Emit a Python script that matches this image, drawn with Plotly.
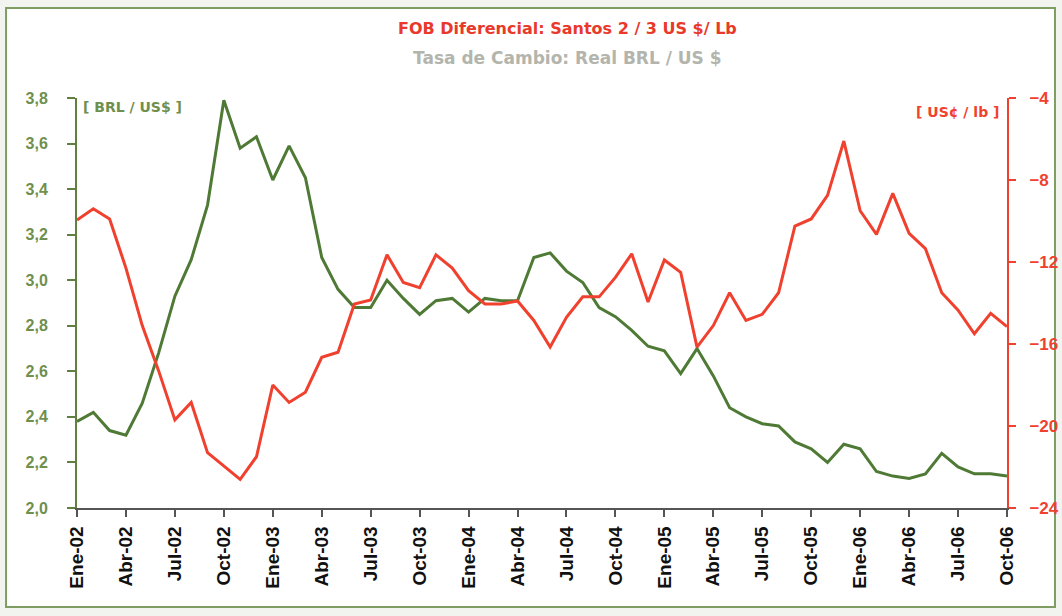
import plotly.graph_objects as go

month_names = ["Ene", "Feb", "Mar", "Abr", "May", "Jun", "Jul", "Ago", "Sep", "Oct", "Nov", "Dic"]
years = ["02", "03", "04", "05", "06"]
months = [f"{m}-{y}" for y in years for m in month_names][:58]  # Ene-02 .. Oct-06

brl_usd = [2.38, 2.42, 2.34, 2.32, 2.46, 2.68, 2.93, 3.09, 3.33, 3.79,
           3.58, 3.63, 3.44, 3.59, 3.45, 3.10, 2.96, 2.88, 2.88, 3.00,
           2.92, 2.85, 2.91, 2.92, 2.86, 2.92, 2.91, 2.91, 3.10, 3.12,
           3.04, 2.99, 2.88, 2.84, 2.78, 2.71, 2.69, 2.59, 2.70, 2.58,
           2.44, 2.40, 2.37, 2.36, 2.29, 2.26, 2.20, 2.28, 2.26, 2.16,
           2.14, 2.13, 2.15, 2.24, 2.18, 2.15, 2.15, 2.14]

fob_diff = [-9.95, -9.4, -9.9, -12.3, -15.1, -17.3, -19.7, -18.85, -21.3, -21.95,
            -22.6, -21.5, -18.0, -18.85, -18.35, -16.65, -16.4, -14.05, -13.85, -11.65,
            -13.0, -13.25, -11.65, -12.3, -13.4, -14.05, -14.05, -13.9, -14.85, -16.15,
            -14.7, -13.7, -13.7, -12.75, -11.6, -13.95, -11.9, -12.5, -16.15, -15.1,
            -13.5, -14.85, -14.55, -13.5, -10.25, -9.9, -8.75, -6.1, -9.5, -10.65,
            -8.65, -10.6, -11.35, -13.5, -14.35, -15.5, -14.5, -15.15]

tick_labels = months[::3]

GREEN = "#4f7a36"
GREEN_TXT = "#6f8f4d"
RED = "#f0412f"

fig = go.Figure()
fig.add_trace(go.Scatter(x=months, y=brl_usd, mode="lines", name="Tasa de Cambio",
                         line=dict(color=GREEN, width=3), yaxis="y"))
fig.add_trace(go.Scatter(x=months, y=fob_diff, mode="lines", name="FOB Diferencial",
                         line=dict(color=RED, width=3), yaxis="y2"))

fig.update_layout(
    width=1062, height=616,
    margin=dict(l=77, r=55, t=98, b=108),
    paper_bgcolor="#f1f4ef",
    plot_bgcolor="white",
    showlegend=False,
    separators=",.",
    xaxis=dict(
        type="category", categoryorder="array", categoryarray=months,
        range=[0, 57], automargin=False,
        tickmode="array", tickvals=tick_labels, ticktext=tick_labels,
        tickangle=-90, ticks="outside", ticklen=7, tickwidth=1.5, tickcolor="#555555",
        showline=True, linecolor="#555555", linewidth=1.5,
        showgrid=False, zeroline=False,
        tickfont=dict(family="Arial, Liberation Sans", size=19, color="#111111", weight="bold"),
        ticklabelstandoff=2,
    ),
    yaxis=dict(
        range=[2.0, 3.8], dtick=0.2, tick0=2.0, tickformat=".1f", automargin=False,
        ticks="outside", ticklen=8, tickwidth=1.5, tickcolor="#5f8040",
        showline=True, linecolor="#5f8040", linewidth=2,
        showgrid=False, zeroline=False,
        tickfont=dict(family="Arial, Liberation Sans", size=16, color=GREEN_TXT, weight="bold"),
        ticklabelstandoff=16,
    ),
    yaxis2=dict(
        range=[-24, -4], dtick=4, tick0=-24, overlaying="y", side="right", automargin=False,
        ticks="outside", ticklen=7, tickwidth=1.5, tickcolor=RED,
        showline=True, linecolor=RED, linewidth=2,
        showgrid=False, zeroline=False,
        tickfont=dict(family="Arial, Liberation Sans", size=17, color=RED, weight="bold"),
        ticklabelstandoff=10,
    ),
    shapes=[
        dict(type="rect", xref="paper", yref="paper",
             x0=-0.0763, x1=1.0516, y0=-0.2415, y1=1.2195,
             line=dict(color="#7f9d62", width=2), fillcolor="white", layer="below"),
    ],
    annotations=[
        dict(text="<b>FOB Diferencial: Santos 2 / 3 US $/ Lb</b>", xref="paper", yref="paper",
             x=0.527, y=1.1707, xanchor="center", yanchor="middle", showarrow=False,
             font=dict(family="DejaVu Sans", size=16, color="#e8392b")),
        dict(text="Tasa de Cambio: Real BRL / US $", xref="paper", yref="paper",
             x=0.527, y=1.0976, xanchor="center", yanchor="middle", showarrow=False,
             font=dict(family="DejaVu Sans", size=17, color="#b3b5ad", weight=600)),
        dict(text="<b>[ BRL / US$ ]</b>", xref="paper", yref="paper",
             x=0.004, y=0.979, xanchor="left", yanchor="middle", showarrow=False,
             font=dict(family="DejaVu Sans", size=14, color=GREEN_TXT)),
        dict(text="<b>[ US¢ / lb ]</b>", xref="paper", yref="paper",
             x=0.9935, y=0.966, xanchor="right", yanchor="middle", showarrow=False,
             font=dict(family="DejaVu Sans", size=14, color=RED)),
    ],
)

fig.write_html("out.html", config={"displayModeBar": False},
               post_script="document.body.style.margin='0';document.body.style.overflow='hidden';")
